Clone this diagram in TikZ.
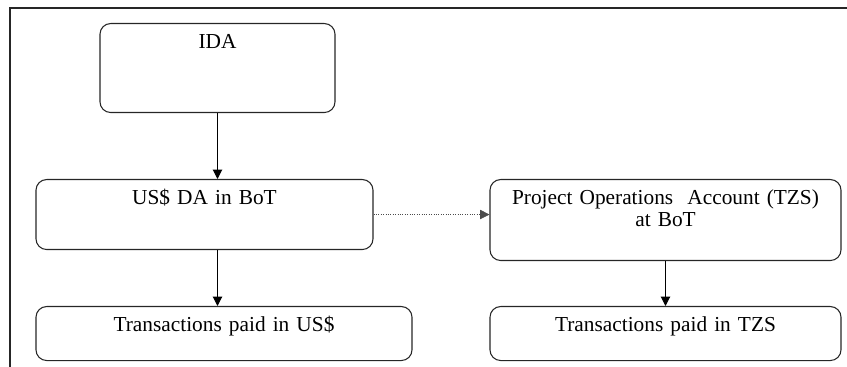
\documentclass[tikz,border=0pt]{standalone}
\usepackage{fontspec}
\setmainfont{Liberation Serif}
\usepackage{tikz}
\usetikzlibrary{arrows.meta}

\tikzset{
  acct/.style={draw, line width=0.8pt, black!85, rounded corners=8pt, anchor=north, align=center,
    inner xsep=0pt, inner ysep=0pt, text height=18.75pt, text=black,
    font=\fontsize{16}{16.5}\selectfont},
  flow/.style={-{Triangle[length=7pt,width=7pt]}, line width=0.8pt},
}

\begin{document}
\begin{tikzpicture}[x=0.75pt, y=-0.75pt]
            \useasboundingbox (0,0) rectangle (847,367);
            % frame
            \coordinate (fbl) at (10,367);
            \coordinate (ftl) at (10,8);
            \coordinate (ftr) at (847,8);
            \draw[line width=1.5pt, black!85] (fbl) -- (ftl) -- (ftr);

            % source of funds
            \node[acct, text width=176.25pt, text depth=48pt] (ida) at (217.5,23) {IDA};

            % US$ side
            \node[acct, text width=252.75pt, text depth=33.75pt] (usda) at (204.5,179) {US\$ DA in BoT};
            \node[acct, text width=282pt, text depth=21.75pt] (ustx) at (224,306) {Transactions paid in US\$};
            \draw[flow] (ida) -- (ida |- usda.north);
            \draw[flow] (usda.south -| ida.south) -- (ustx.north -| ida.south);

            % TZS side
            \node[acct, text width=263.25pt, text depth=42pt] (poa) at (665.5,179) {Project Operations\ \ Account (TZS)\\at BoT};
            \node[acct, text width=263.25pt, text depth=21.75pt] (tzstx) at (665.5,306) {Transactions paid in TZS};
            \draw[flow] (poa) -- (tzstx);
            \draw[flow, densely dotted, line width=0.5pt, black!70] (usda.east) -- (usda.east -| poa.west);
        \end{tikzpicture}
\end{document}
